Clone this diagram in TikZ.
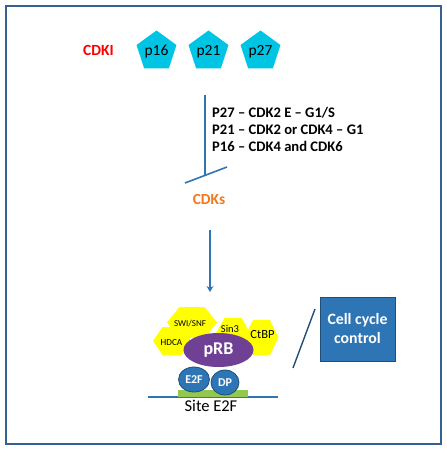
\documentclass[tikz,border=0pt]{standalone}
\usepackage{fontspec}
\setmainfont{Carlito}
\usetikzlibrary{shapes.geometric,positioning,arrows.meta}

\definecolor{frameblue}{RGB}{54,96,146}
\definecolor{cdkired}{RGB}{255,0,0}
\definecolor{pentcyan}{RGB}{0,196,228}
\definecolor{lineblue}{RGB}{46,117,182}
\definecolor{cdkorange}{RGB}{240,120,30}
\definecolor{hexyellow}{RGB}{255,255,0}
\definecolor{prbpurple}{RGB}{112,64,148}
\definecolor{darkblue}{RGB}{31,78,121}
\definecolor{sitegreen}{RGB}{146,200,80}

\begin{document}
\begin{tikzpicture}[x=1pt,y=-1pt,>={Stealth[length=6pt,width=7pt]},node distance=52pt,
    pent/.style={regular polygon,regular polygon sides=5,fill=pentcyan,minimum size=42pt,inner sep=0pt,font=\fontsize{15.5}{17}\selectfont},
    hexlbl/.style={inner sep=0pt,font=\fontsize{#1}{11}\selectfont},
    blob/.style={ellipse,inner sep=0pt,text=white,font=\bfseries\fontsize{12}{13}\selectfont},
    pics/hexa/.style 2 args={code={\fill[hexyellow] (-#1,0) -- (-#1/2,-#2) -- (#1/2,-#2) -- (#1,0) -- (#1/2,#2) -- (-#1/2,#2) -- cycle;}}]
        \useasboundingbox (0,0) rectangle (447,450);
        \draw[frameblue,line width=1.5pt] (6,6) rectangle (441,444);

        \node[text=cdkired,font=\bfseries\fontsize{15.5}{17}\selectfont] (cdki) at (98.5,50) {CDKI};
        \node[pent] (p16) at (156.5,51.5) {p16};
        \node[pent] (p21) [right of=p16] {p21};
        \node[pent] (p27) [right of=p21] {p27};

        \coordinate (inhtop) at (205,95);
        \coordinate (inhbot) at (205,175.5);
        \coordinate (barl) at (185,183);
        \coordinate (barr) at (227,167);
        \draw[lineblue,line width=1.6pt] (inhtop) -- (inhbot);
        \draw[lineblue,line width=1.6pt] (barl) -- (barr);
        \node[anchor=west,align=left,inner sep=0pt,font=\bfseries\fontsize{14.6}{17}\selectfont] (rules) at (212,129.5)
            {P27 -- CDK2 E -- G1/S\\P21 -- CDK2 or CDK4 -- G1\\P16 -- CDK4 and CDK6};

        \node[text=cdkorange,font=\bfseries\fontsize{15.4}{17}\selectfont] (cdks) at (209,200) {CDKs};
        \coordinate (arrtop) at (210,230);
        \coordinate (arrtip) at (210,292);
        \draw[->,lineblue,line width=1.6pt] (arrtop) -- (arrtip);

        % complex on the E2F site
        \pic at (172,341) {hexa={19}{14}};
        \pic at (192,322.5) {hexa={25}{15.5}};
        \pic at (233,333) {hexa={17}{15}};
        \pic at (261.5,337.5) {hexa={17}{17.5}};
        \node[hexlbl=9.2] (hdca) at (171.5,343) {HDCA};
        \node[hexlbl=9] (swisnf) at (190,324) {SWI/SNF};
        \node[hexlbl=10.5] (sin3) at (230,329) {Sin3};
        \node[hexlbl=12.5] (ctbp) at (262.5,334.5) {CtBP};

        \node[blob,fill=prbpurple,minimum width=70pt,minimum height=34pt,font=\bfseries\fontsize{18}{20}\selectfont] (prb) at (218.5,350) {pRB};

        \coordinate (dnal) at (148,397);
        \coordinate (dnar) at (278,397);
        \draw[lineblue,line width=2pt] (dnal) -- (dnar);
        \node[fill=sitegreen,minimum width=70pt,minimum height=7pt,inner sep=0pt] (site) at (213,393.5) {};
        \node[blob,fill=lineblue,draw=darkblue,line width=0.8pt,minimum width=31pt,minimum height=25pt] (e2f) at (194,379.5) {E2F};
        \node[blob,fill=lineblue,draw=darkblue,line width=0.8pt,minimum width=28pt,minimum height=25pt] (dp) at (225,382.5) {DP};
        \node[font=\fontsize{16.5}{18}\selectfont] (sitelbl) at (211,406) {Site E2F};

        \node[fill=lineblue,draw=darkblue,line width=1pt,minimum width=75pt,minimum height=64pt,align=center,
            text=white,font=\bfseries\fontsize{15.8}{19}\selectfont] (ccc) at (357.5,329) {Cell cycle\\control};
        \coordinate (slasha) at (315,309);
        \coordinate (slashb) at (293,368);
        \draw[darkblue,line width=1.4pt] (slasha) -- (slashb);
\end{tikzpicture}
\end{document}
